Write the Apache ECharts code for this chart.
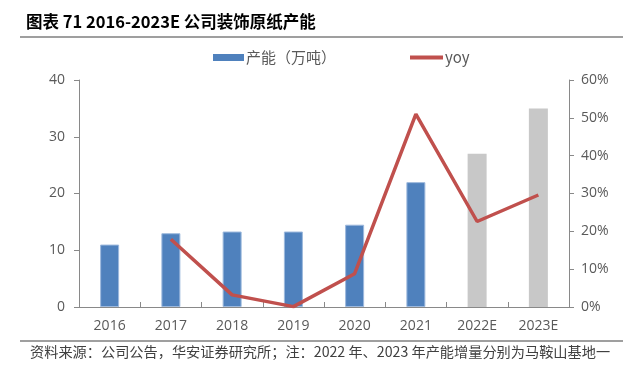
<!DOCTYPE html>
<html><head><meta charset="utf-8">
<script src="https://cdn.jsdelivr.net/npm/echarts@6/dist/echarts.min.js"></script>
<style>html,body{margin:0;padding:0;background:#fff}#c{width:623px;height:369px}</style>
</head><body><div id="c"></div>
<script>
const categories = ['2016','2017','2018','2019','2020','2021','2022E','2023E'];
const capacity = [11, 13, 13.3, 13.3, 14.5, 22, 27, 35];
const estimated = [false, false, false, false, false, false, true, true];
const yoy = [null, 17.9, 3.2, 0.1, 8.8, 51.0, 22.6, 29.6];
const leftTicks = {min: 0, max: 40, interval: 10};
const rightTicks = {min: 0, max: 60, interval: 10};

const chart = echarts.init(document.getElementById('c'));
const axisFont = {fontFamily: 'Open Sans', fontSize: 14, color: '#595959'};
const legendText = {fontFamily: 'Noto Sans CJK SC', fontSize: 15, color: '#595959'};
chart.setOption({
  animation: false,
  textStyle: {fontFamily: 'Open Sans'},
  grid: {left: 79, right: 54, top: 80, bottom: 62},
  legend: [{
    left: 208, top: 45, itemWidth: 31, itemHeight: 7, itemGap: 5,
    textStyle: Object.assign({padding: [0,0,0,-3]}, legendText),
    data: [{name: '产能（万吨）', icon: 'rect'}]
  }, {
    left: 405, top: 45, itemWidth: 33, itemHeight: 4, itemGap: 5,
    textStyle: Object.assign({padding: [0,0,0,-3]}, legendText),
    data: [{name: 'yoy', icon: 'rect'}]
  }],
  xAxis: {
    type: 'category', data: categories,
    axisLine: {lineStyle: {color: '#898989', width: 1}},
    axisTick: {show: true, inside: true, length: 5, alignWithLabel: false, lineStyle: {color: '#898989'}},
    axisLabel: Object.assign({margin: 12}, axisFont)
  },
  yAxis: [{
    type: 'value', min: leftTicks.min, max: leftTicks.max, interval: leftTicks.interval,
    splitLine: {show: false},
    axisLine: {show: true, lineStyle: {color: '#898989'}},
    axisTick: {show: true, length: 5, lineStyle: {color: '#898989'}},
    axisLabel: Object.assign({margin: 14}, axisFont)
  }, {
    type: 'value', min: rightTicks.min, max: rightTicks.max, interval: rightTicks.interval,
    splitLine: {show: false},
    axisLine: {show: true, lineStyle: {color: '#898989'}},
    axisTick: {show: true, length: 5, lineStyle: {color: '#898989'}},
    axisLabel: Object.assign({margin: 12, formatter: '{value}%'}, axisFont)
  }],
  series: [{
    name: '产能（万吨）', type: 'bar', barWidth: 19,
    itemStyle: {color: '#4F81BD'},
    data: capacity.map((v, i) => estimated[i]
      ? {value: v, itemStyle: {color: '#C8C8C8'}}
      : {value: v, itemStyle: {color: '#4F81BD', borderColor: '#9DB9DD', borderWidth: 1}})
  }, {
    name: 'yoy', type: 'line', yAxisIndex: 1, symbol: 'none', showSymbol: false,
    lineStyle: {color: '#C0504D', width: 3.5}, itemStyle: {color: '#C0504D'},
    data: yoy.map(v => v === null ? '-' : v)
  }],
  graphic: [
    {type: 'text', left: 26, top: 13, style: {text: '图表 71 2016-2023E 公司装饰原纸产能', font: 'bold 16.5px "Noto Sans CJK SC"', fill: '#000'}},
    {type: 'line', shape: {x1: 20, y1: 37, x2: 623, y2: 37}, style: {stroke: '#404040', lineWidth: 1.2}},
    {type: 'line', shape: {x1: 20, y1: 341, x2: 623, y2: 341}, style: {stroke: '#404040', lineWidth: 1.2}},
    {type: 'text', left: 30, top: 345, style: {text: '资料来源：公司公告，华安证券研究所；注：2022 年、2023 年产能增量分别为马鞍山基地一', font: '14.2px "Noto Sans CJK SC"', fill: '#404040'}}
  ]
});
</script></body></html>
